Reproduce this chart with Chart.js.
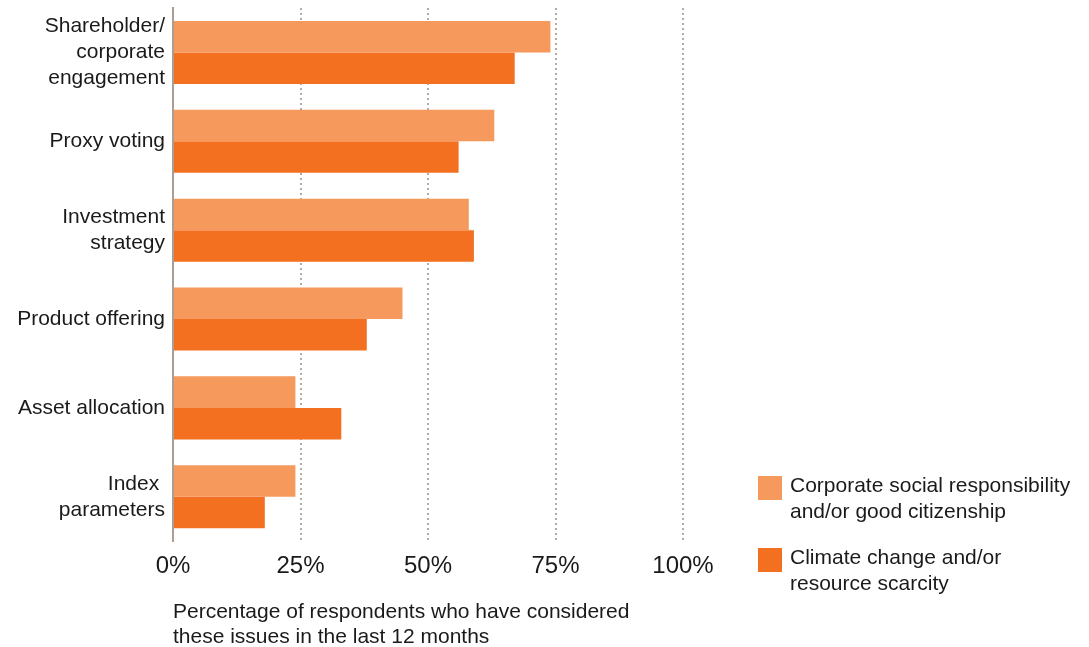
<!DOCTYPE html>
<html>
<head>
<meta charset="utf-8">
<script src="https://cdn.jsdelivr.net/npm/chart.js@4/dist/chart.umd.min.js"></script>
<style>
  html, body { margin: 0; padding: 0; background: #fff; }
  #wrap { position: relative; width: 1089px; height: 647px; }
  #legend { position: absolute; left: 758px; top: 472px; font-family: "Liberation Sans", Arial, sans-serif; font-size: 21px; line-height: 26px; color: #1a1a1a; }
  .item { display: flex; align-items: flex-start; margin-bottom: 20px; }
  .swatch { width: 24px; height: 24px; margin-top: 4px; margin-right: 8px; flex: none; }
</style>
</head>
<body>
<div id="wrap">
  <canvas id="chart" width="1089" height="647"></canvas>
  <div id="legend"></div>
</div>
<script>
const categories = [
  ['Shareholder/', 'corporate', 'engagement'],
  'Proxy voting',
  ['Investment', 'strategy'],
  'Product offering',
  'Asset allocation',
  ['Index ', 'parameters']
];
const csrValues = [74, 63, 58, 45, 24, 24];
const climateValues = [67, 56, 59, 38, 33, 18];
const seriesNames = [
  ['Corporate social responsibility', 'and/or good citizenship'],
  ['Climate change and/or', 'resource scarcity']
];
const tickValues = [0, 25, 50, 75, 100];
const colors = ['#f5995c', '#f37021'];

const font = "'Liberation Sans', Arial, sans-serif";

const ctx = document.getElementById('chart').getContext('2d');
const chart = new Chart(ctx, {
  type: 'bar',
  data: {
    labels: categories,
    datasets: [
      { label: seriesNames[0].join(' '), data: csrValues, backgroundColor: colors[0] },
      { label: seriesNames[1].join(' '), data: climateValues, backgroundColor: colors[1] }
    ]
  },
  options: {
    indexAxis: 'y',
    responsive: false,
    animation: false,
    datasets: { bar: { categoryPercentage: 0.71, barPercentage: 1.0 } },
    layout: { padding: { top: 8, right: 406, bottom: -3, left: 0 } },
    plugins: { legend: { display: false }, tooltip: { enabled: false } },
    scales: {
      x: {
        min: 0,
        max: 100,
        afterBuildTicks: (scale) => { scale.ticks = tickValues.map(v => ({ value: v })); },
        afterFit: (scale) => { scale.paddingLeft = 0; scale.paddingRight = 0; },
        ticks: {
          callback: (v) => v + '%',
          font: { family: font, size: 24 },
          color: '#1a1a1a',
          padding: 11,
          maxRotation: 0
        },
        grid: {
          drawTicks: false,
          color: (c) => c.tick && c.tick.value === 0 ? 'rgba(0,0,0,0)' : '#b3aaa1',
          lineWidth: 2
        },
        border: { display: false, dash: [2, 3] },
        title: {
          display: true,
          align: 'start',
          text: ['Percentage of respondents who have considered', 'these issues in the last 12 months'],
          font: { family: font, size: 21, lineHeight: 1.19 },
          color: '#1a1a1a',
          padding: { top: 8, bottom: 0 }
        }
      },
      y: {
        afterFit: (scale) => {
          scale.width = 173;
          scale.paddingTop = 0;
          scale.paddingBottom = 0;
        },
        ticks: {
          font: { family: font, size: 21, lineHeight: 1.24 },
          color: '#1a1a1a',
          padding: 8
        },
        grid: { display: false, drawTicks: false },
        border: { display: true, color: '#a89e95', width: 2 }
      }
    }
  }
});

// dotted vertical gridlines
chart.options.scales.x.border.dash = [2, 3];
chart.update();

// legend with two-line labels
const legend = document.getElementById('legend');
seriesNames.forEach((name, i) => {
  const item = document.createElement('div');
  item.className = 'item';
  const sw = document.createElement('div');
  sw.className = 'swatch';
  sw.style.background = colors[i];
  const txt = document.createElement('div');
  txt.innerHTML = name.join('<br>');
  item.appendChild(sw);
  item.appendChild(txt);
  legend.appendChild(item);
});
</script>
</body>
</html>
